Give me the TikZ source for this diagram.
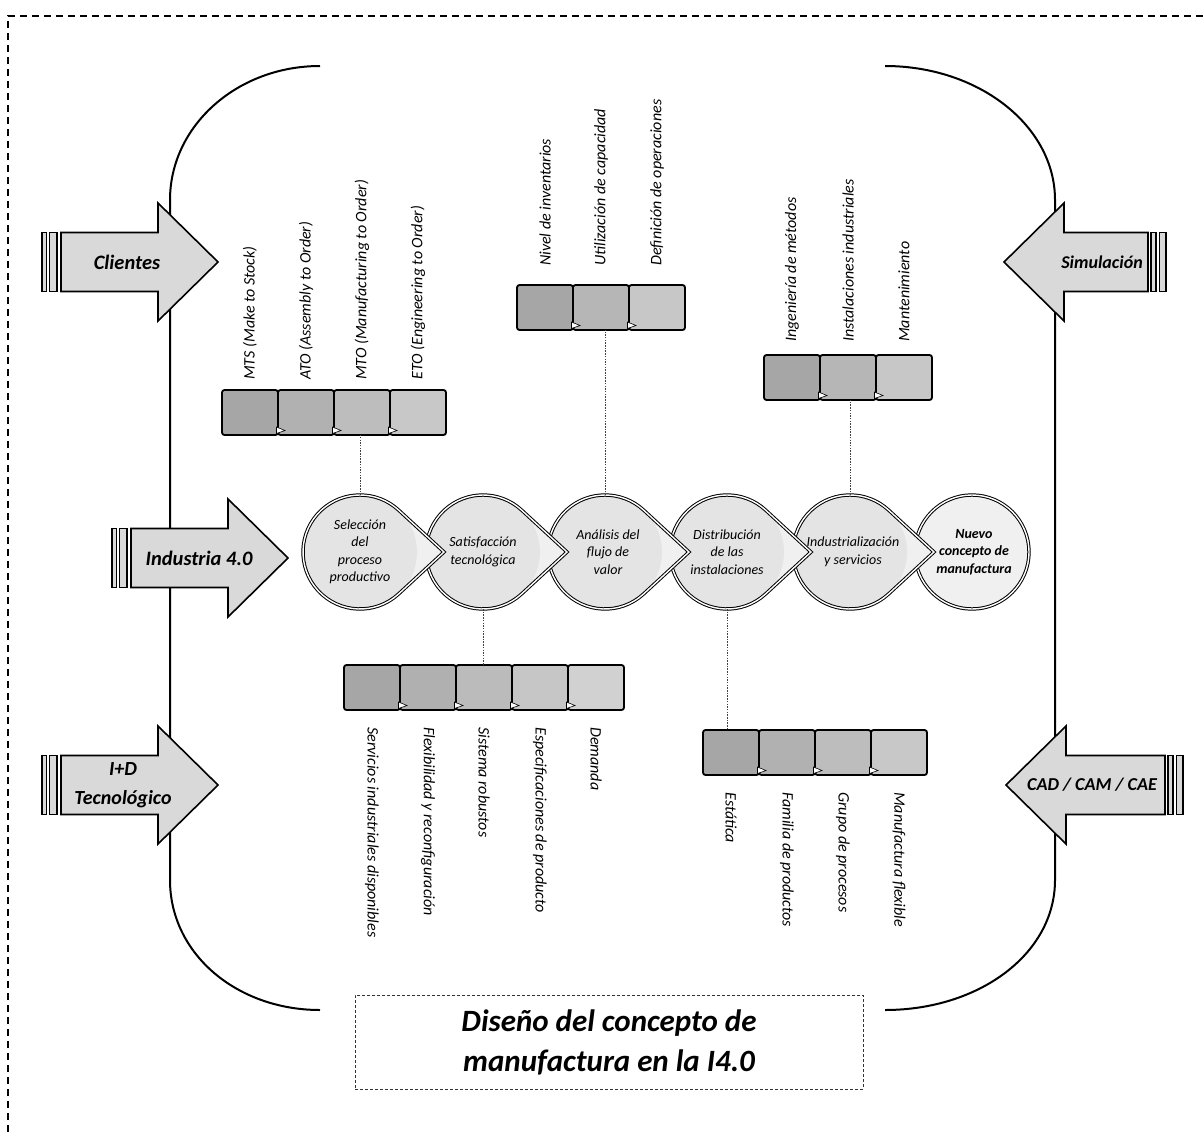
\documentclass[tikz,border=0pt]{standalone}
\usepackage{fontspec}
\setmainfont{Carlito}
\definecolor{arrgray}{HTML}{D9D9D9}
\definecolor{circfill}{HTML}{E4E4E4}
\definecolor{tipfill}{HTML}{F0F0F0}
\tikzset{
 brk/.style={line width=2pt},
 arrowbody/.style={draw=black, line width=1.6pt, fill=arrgray, line join=miter},
 arrlbl/.style={font=\fontsize{20.5}{24}\selectfont\bfseries\itshape, align=center, inner sep=0pt},
 procshape/.style={draw=black, line width=1pt, double=white, double distance=1.4pt, line join=miter},
 proctxt/.style={circle, minimum size=114pt, inner sep=0pt, outer sep=0pt, align=center, font=\fontsize{14}{17.5}\selectfont\itshape},
 stepbox/.style={draw=black, line width=1.8pt, rounded corners=2.5pt, minimum width=56pt, minimum height=45pt, inner sep=0pt, outer sep=0pt},
 boxlbl/.style={font=\fontsize{16}{18}\selectfont\itshape, inner sep=0pt, anchor=west},
 link/.style={line width=0.8pt, dash pattern=on 1.5pt off 1.2pt, draw=black!75},
 tri/.style={draw=black, line width=0.6pt, fill=white},
 frame/.style={line width=1.3pt, dash pattern=on 7pt off 5pt},
 titlebox/.style={draw=black!80, line width=0.8pt, dash pattern=on 3pt off 2pt, minimum width=508pt, minimum height=94pt, align=center, font=\fontsize{31}{40}\selectfont\bfseries\itshape},
}
\newcommand\leftarr[2]{%
  \draw[arrowbody] (#1,#2-29.5) rectangle (#1+4.5,#2+29.5);
  \draw[arrowbody] (#1+7.5,#2-29.5) rectangle (#1+15,#2+29.5);
  \draw[arrowbody] (#1+19,#2-29.5) -- (#1+116,#2-29.5) -- (#1+116,#2-59) -- (#1+176,#2) -- (#1+116,#2+59) -- (#1+116,#2+29.5) -- (#1+19,#2+29.5) -- cycle;
}
% #1 tip x, #2 centre y, #3 body end x
\newcommand\rightarr[3]{%
  \draw[arrowbody] (#3+3,#2-29.5) rectangle (#3+8,#2+29.5);
  \draw[arrowbody] (#3+11.5,#2-29.5) rectangle (#3+18,#2+29.5);
  \draw[arrowbody] (#3,#2-29.5) -- (#1+60,#2-29.5) -- (#1+60,#2-59) -- (#1,#2) -- (#1+60,#2+59) -- (#1+60,#2+29.5) -- (#3,#2+29.5) -- cycle;
}
\newcommand\teardrop[2]{%
  \fill[tipfill] (#1,#2) ++(47.3:57) arc[start angle=47.3,end angle=312.7,radius=57] -- (#1+84,#2) -- cycle;
  \fill[circfill] (#1,#2) circle[radius=57];
  \draw[procshape] (#1,#2) ++(47.3:57) arc[start angle=47.3,end angle=312.7,radius=57] -- (#1+84,#2) -- cycle;
}
\newcommand\boxrow[5]{%
  \foreach \i in {1,...,#4}{%
    \pgfmathsetmacro\pp{35-(\i-1)*#5}%
    \node[stepbox, fill=black!\pp, anchor=north west] (#1\i) at ({#2+(\i-1)*56},#3) {};
  }%
  \foreach \i in {2,...,#4}{%
    \draw[tri] ([shift={(-1.5,-8)}]#1\i.south west) -- ([shift={(7,-4.5)}]#1\i.south west) -- ([shift={(-1.5,-1.5)}]#1\i.south west) -- cycle;
  }%
}
\begin{document}
\begin{tikzpicture}[x=1pt,y=-1pt]
\useasboundingbox (0,0) rectangle (1204,1132);
% outer frame
\draw[frame] (8,1132) -- (8,16) -- (1204,16);
% brackets
\draw[brk] (320,66) .. controls (237,66) and (170,126) .. (170,200) -- (170,880) .. controls (170,954) and (237,1010) .. (320,1010);
\draw[brk] (885,66) .. controls (979,66) and (1055,126) .. (1055,200) -- (1055,880) .. controls (1055,954) and (979,1010) .. (885,1010);
% input arrows
\leftarr{42}{262}
\leftarr{112}{558}
\leftarr{42}{785}
\rightarr{1004}{262}{1148}
\rightarr{1006}{785}{1165}
\node[arrlbl] (clientes) at (127,262) {Clientes};
\node[arrlbl] (industria) at (199,558) {Industria 4.0};
\node[arrlbl, font=\fontsize{20}{29}\selectfont\bfseries\itshape] (imasd) at (123,785) {I+D\\Tecnológico};
\node[arrlbl, font=\fontsize{18}{22}\selectfont\bfseries\itshape] (simulacion) at (1102,262) {Simulación};
\node[arrlbl, font=\fontsize{18.2}{22}\selectfont\bfseries\itshape] (cad) at (1092,785) {CAD / CAM / CAE};
% process chain
\fill[tipfill] (972,552) circle[radius=57];
\draw[procshape] (972,552) circle[radius=57];
\teardrop{850}{552}
\teardrop{727}{552}
\teardrop{605}{552}
\teardrop{483}{552}
\teardrop{360}{552}
\node[proctxt] (c1) at (360,552) {Selección\\del\\proceso\\productivo};
\node[proctxt] (c2) at (483,552) {Satisfacción\\tecnológica};
\node[proctxt] (c3) at (605,552) {\hspace*{6pt}Análisis del\\\hspace*{6pt}flujo de\\\hspace*{6pt}valor};
\node[proctxt] (c4) at (727,552) {Distribución\\de las\\instalaciones};
\node[proctxt] (c5) at (850,552) {\hspace*{6pt}Industrialización\\\hspace*{6pt}y servicios};
\node[proctxt, font=\fontsize{14}{17.5}\selectfont\bfseries\itshape] (c6) at (974,552) {Nuevo\\concepto de\\manufactura};
% box rows
\boxrow{a}{222}{390}{4}{4.5}
\boxrow{b}{517}{285}{3}{6.5}
\boxrow{cc}{764}{355}{3}{6.5}
\boxrow{d}{344}{665}{5}{4.2}
\boxrow{e}{703}{730}{4}{4.5}
% links
\draw[link] (c1.north) -- (c1.north |- a3.south);
\draw[link] (c3.north) -- (c3.north |- b2.south);
\draw[link] (c5.north) -- (c5.north |- cc2.south);
\draw[link] (c2.south) -- (c2.south |- d3.north);
\draw[link] (c4.south) -- (c4.south |- e1.north);
% labels above
\node[boxlbl, rotate=90] (la1) at (a1.north |- 0,380) {MTS (Make to Stock)};
\node[boxlbl, rotate=90] (la2) at (a2.north |- 0,380) {ATO (Assembly to Order)};
\node[boxlbl, rotate=90] (la3) at (a3.north |- 0,380) {MTO (Manufacturing to Order)};
\node[boxlbl, rotate=90] (la4) at (a4.north |- 0,380) {ETO (Engineering to Order)};
\node[boxlbl, rotate=90] (lb1) at (b1.north |- 0,266) {Nivel de inventarios};
\node[boxlbl, rotate=90] (lb2) at (b2.north |- 0,266) {Utilización de capacidad};
\node[boxlbl, rotate=90] (lb3) at (b3.north |- 0,266) {Definición de operaciones};
\node[boxlbl, rotate=90] (lc1) at (cc1.north |- 0,342) {Ingeniería de métodos};
\node[boxlbl, rotate=90] (lc2) at (cc2.north |- 0,342) {Instalaciones industriales};
\node[boxlbl, rotate=90] (lc3) at (cc3.north |- 0,342) {Mantenimiento};
% labels below
\node[boxlbl, rotate=-90] (ld1) at (d1.south |- 0,727) {Servicios industriales disponibles};
\node[boxlbl, rotate=-90] (ld2) at (d2.south |- 0,727) {Flexibilidad y reconfiguración};
\node[boxlbl, rotate=-90] (ld3) at (d3.south |- 0,727) {Sistema robustos};
\node[boxlbl, rotate=-90] (ld4) at (d4.south |- 0,727) {Especificaciones de producto};
\node[boxlbl, rotate=-90] (ld5) at (d5.south |- 0,727) {Demanda};
\node[boxlbl, rotate=-90] (le1) at (e1.south |- 0,792) {Estática};
\node[boxlbl, rotate=-90] (le2) at (e2.south |- 0,792) {Familia de productos};
\node[boxlbl, rotate=-90] (le3) at (e3.south |- 0,792) {Grupo de procesos};
\node[boxlbl, rotate=-90] (le4) at (e4.south |- 0,792) {Manufactura flexible};
% title
\node[titlebox] (title) at (609,1042) {Diseño del concepto de\\manufactura en la I4.0};
\end{tikzpicture}
\end{document}
